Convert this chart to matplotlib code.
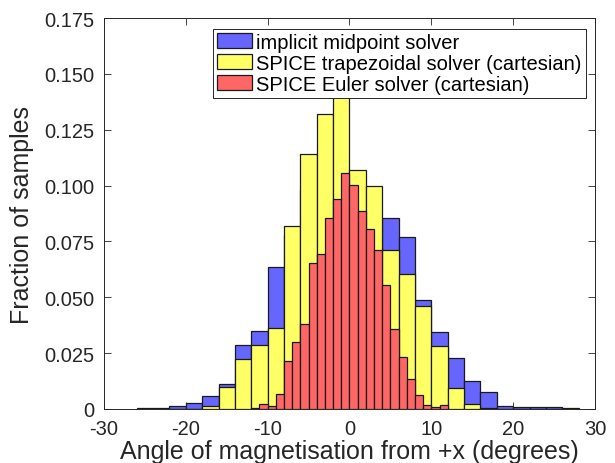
import matplotlib
matplotlib.use("Agg")
import matplotlib.pyplot as plt
import numpy as np

plt.rcParams['font.family'] = ['Liberation Sans', 'DejaVu Sans']

# Wide bins (width 2 degrees), left edges from -26 to 26
wide_edges = list(range(-26, 28, 2))
implicit_midpoint = [0.0005, 0.0005, 0.0015, 0.0025, 0.006, 0.011, 0.0285, 0.0349, 0.0634,
                     0.078, 0.098, 0.105, 0.100, 0.093, 0.085,
                     0.0853, 0.0768, 0.0489, 0.0345, 0.023, 0.0125, 0.0075, 0.0015,
                     0.001, 0.001, 0.001, 0.0005]
spice_trapezoidal = [0.0, 0.0, 0.0, 0.0, 0.0015, 0.010, 0.0224, 0.0288, 0.0364,
                     0.0821, 0.114, 0.132, 0.148, 0.1071, 0.100,
                     0.0712, 0.0604, 0.0463, 0.0282, 0.0093, 0.0022, 0.0003, 0.0,
                     0.0, 0.0, 0.0, 0.0]

# Narrow bins (width 1 degree), left edges from -12 to 11
narrow_edges = list(range(-12, 12))
spice_euler = [0.0003, 0.0022, 0.0015, 0.0066, 0.0213, 0.0298, 0.0379, 0.0654,
               0.0695, 0.0856, 0.094, 0.1055, 0.1003, 0.0885, 0.0804, 0.0712,
               0.0555, 0.0358, 0.0234, 0.0134, 0.0064, 0.0018, 0.0009, 0.0018]

labels = ['implicit midpoint solver', 'SPICE trapezoidal solver (cartesian)',
          'SPICE Euler solver (cartesian)']
xticks = [-30, -20, -10, 0, 10, 20, 30]
yticks = [0, 0.025, 0.05, 0.075, 0.1, 0.125, 0.15, 0.175]
ytick_labels = ['0', '0.025', '0.050', '0.075', '0.100', '0.125', '0.150', '0.175']

fig = plt.figure(figsize=(6.15, 4.64), dpi=100)
ax = fig.add_axes([0.169, 0.1164, 0.7985, 0.8426])

ec = '#1a1a1a'
lw = 0.9
ax.bar(wide_edges, implicit_midpoint, width=2, align='edge', color='#6666FF',
       edgecolor=ec, linewidth=lw, label=labels[0])
ax.bar(wide_edges, spice_trapezoidal, width=2, align='edge', color='#FFFF66',
       edgecolor=ec, linewidth=lw, label=labels[1])
ax.bar(narrow_edges, spice_euler, width=1, align='edge', color='#FF6666',
       edgecolor=ec, linewidth=lw, label=labels[2])

ax.set_xlim(-30, 30)
ax.set_ylim(0, 0.175)
ax.set_xticks(xticks)
ax.set_xticklabels([str(t) for t in xticks])
ax.set_yticks(yticks)
ax.set_yticklabels(ytick_labels)

ax.tick_params(direction='in', top=True, right=True, length=5, width=0.6,
               labelsize=14.5, colors='#262626')
ax.tick_params(axis='x', pad=7)
ax.tick_params(axis='y', pad=7)
for s in ax.spines.values():
    s.set_color('#262626')
    s.set_linewidth(0.7)

ax.set_xlabel('Angle of magnetisation from +x (degrees)', fontsize=18, color='#262626')
ax.set_ylabel('Fraction of samples', fontsize=18, color='#262626')
ax.xaxis.set_label_coords(0.5, -0.076)
ax.yaxis.set_label_coords(-0.143, 0.5)

leg = ax.legend(loc='upper right', bbox_to_anchor=(0.981, 0.973), fontsize=14.5,
                fancybox=False, framealpha=1, edgecolor='#262626',
                handlelength=1.75, handleheight=0.8, handletextpad=0.2,
                labelspacing=0.1, borderpad=0.2, borderaxespad=0.0)
leg.get_frame().set_linewidth(0.7)
leg.set_zorder(10)

fig.savefig('out.png', dpi=100)
